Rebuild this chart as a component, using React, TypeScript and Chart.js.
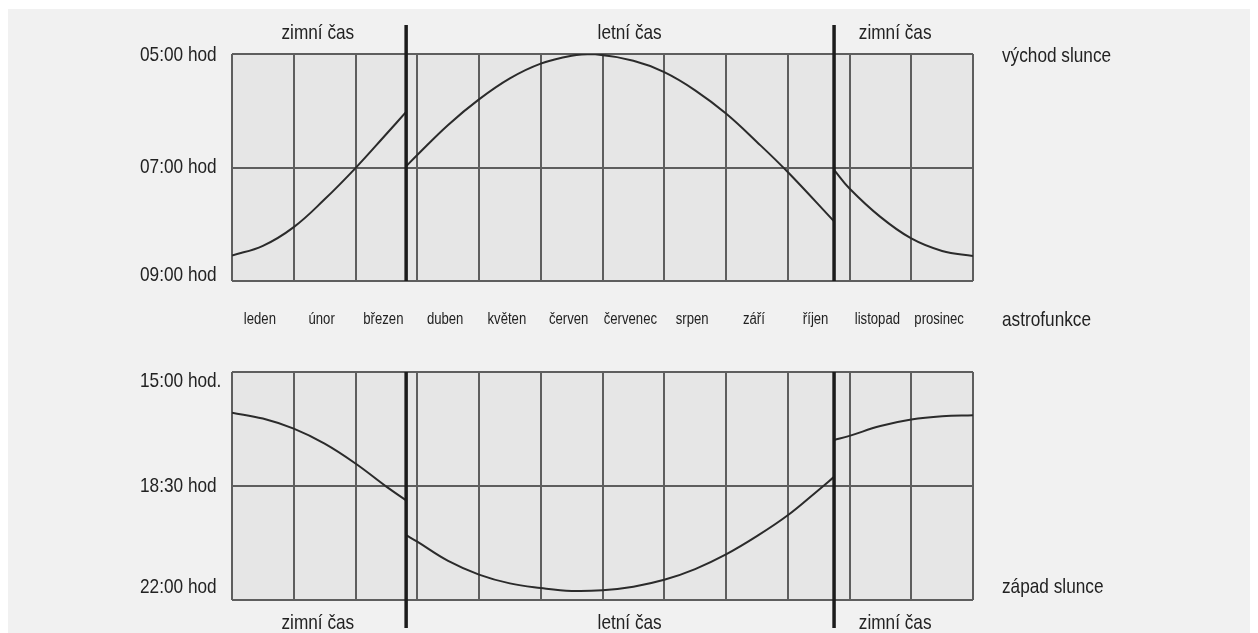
import React, { useEffect, useRef } from 'react';
import { Chart, registerables } from 'chart.js';

Chart.register(...registerables);

// ---------- data ----------
const MONTHS = ['leden', 'únor', 'březen', 'duben', 'květen', 'červen', 'červenec', 'srpen', 'září', 'říjen', 'listopad', 'prosinec'];
const DST_CHANGES = [2.82, 9.75]; // month position of the time change
const SEASONS = ['zimní čas', 'letní čas', 'zimní čas'];

const SUNRISE_TICK_VALUES = [5, 7, 9];
const SUNRISE_TICK_LABELS = ['05:00 hod', '07:00 hod', '09:00 hod'];
const SUNSET_TICK_VALUES = [15, 18.5, 22];
const SUNSET_TICK_LABELS = ['15:00 hod.', '18:30 hod', '22:00 hod'];

// [month, hour]
const SUNRISE_WINTER_1 = [[0, 8.55], [0.5, 8.38], [1, 8.05], [1.5, 7.56], [2, 7.01], [2.5, 6.41], [2.82, 6.02]];
const SUNRISE_SUMMER = [[2.82, 6.98], [3, 6.78], [3.5, 6.25], [4, 5.8], [4.5, 5.43], [5, 5.17], [5.5, 5.03], [5.85, 5.0], [6.5, 5.12], [7, 5.32], [7.5, 5.64], [8, 6.05], [8.5, 6.55], [9, 7.08], [9.75, 7.95]];
const SUNRISE_WINTER_2 = [[9.75, 7.04], [10, 7.37], [10.5, 7.87], [11, 8.25], [11.5, 8.47], [12, 8.56]];

const SUNSET_WINTER_1 = [[0, 16.25], [0.5, 16.43], [1, 16.74], [1.5, 17.2], [2, 17.81], [2.5, 18.52], [2.82, 18.94]];
const SUNSET_SUMMER = [[2.82, 20.01], [3, 20.21], [3.5, 20.8], [4, 21.22], [4.5, 21.49], [5, 21.63], [5.5, 21.72], [6, 21.7], [6.5, 21.59], [7, 21.38], [7.5, 21.05], [8, 20.6], [8.5, 20.04], [9, 19.4], [9.5, 18.62], [9.75, 18.22]];
const SUNSET_WINTER_2 = [[9.75, 17.09], [10, 16.96], [10.5, 16.66], [11, 16.46], [11.5, 16.36], [12, 16.33]];

// ---------- style ----------
const W = 1258;
const H = 633;
const PAGE_BG = '#f1f1f1';
const PLOT_BG = '#e6e6e6';
const GRID = '#5e5e5e';
const CURVE = '#2b2b2b';
const DST = '#1c1c1c';
const TEXT = '#222222';
const FONT_FAMILY = '"Liberation Sans", Arial, sans-serif';
const NARROW = 0.82;

const PLOT_LEFT = 232;
const PLOT_RIGHT = 973;
const LABEL_LEFT = 140;
const RIGHT_LABEL_LEFT = 1002;
const SEASON_POS = [1.39, 6.44, 10.74];

function narrowText(ctx: CanvasRenderingContext2D, text: string, x: number, y: number, size: number, align: CanvasTextAlign) {
  ctx.save();
  ctx.font = `${size}px ${FONT_FAMILY}`;
  ctx.textAlign = align;
  ctx.textBaseline = 'middle';
  ctx.translate(x, y);
  ctx.scale(NARROW, 1);
  ctx.fillText(text, 0, 0);
  ctx.restore();
}

type PanelCfg = {
  top: number;
  bottom: number;
  yMin: number;
  yMax: number;
  tickValues: number[];
  tickLabels: string[];
  tickOffsets: number[];
  segments: number[][][];
  dstAbove: number;
  dstBelow: number;
  seasonY: number;
  seasonAbove: boolean;
  rightLabel: string;
  rightLabelY: number;
  drawMonths: boolean;
};

function buildPanel(canvas: HTMLCanvasElement, cfg: PanelCfg) {
  const decor = {
    id: 'panelDecor',
    beforeDraw(chart: any) {
      const { ctx, chartArea } = chart;
      ctx.save();
      ctx.fillStyle = PLOT_BG;
      ctx.fillRect(chartArea.left, chartArea.top, chartArea.right - chartArea.left, chartArea.bottom - chartArea.top);
      ctx.restore();
    },
    afterDatasetsDraw(chart: any) {
      const { ctx, chartArea, scales } = chart;
      const xs = scales.x;
      const ys = scales.y;
      ctx.save();
      ctx.strokeStyle = DST;
      ctx.lineWidth = 3.5;
      DST_CHANGES.forEach((d) => {
        const px = xs.getPixelForValue(d);
        ctx.beginPath();
        ctx.moveTo(px, chartArea.top - cfg.dstAbove);
        ctx.lineTo(px, chartArea.bottom + cfg.dstBelow);
        ctx.stroke();
      });
      ctx.fillStyle = TEXT;
      cfg.tickLabels.forEach((t, i) => {
        narrowText(ctx, t, LABEL_LEFT, ys.getPixelForValue(cfg.tickValues[i]) + cfg.tickOffsets[i], 21, 'left');
      });
      narrowText(ctx, cfg.rightLabel, RIGHT_LABEL_LEFT, cfg.rightLabelY, 21, 'left');
      const sy = cfg.seasonAbove ? chartArea.top - cfg.seasonY : chartArea.bottom + cfg.seasonY;
      SEASONS.forEach((s, i) => {
        narrowText(ctx, s, xs.getPixelForValue(SEASON_POS[i]), sy, 21, 'center');
      });
      if (cfg.drawMonths) {
        const my = chartArea.bottom + 39;
        MONTHS.forEach((m, i) => {
          narrowText(ctx, m, xs.getPixelForValue(i + 0.5) - 3, my, 16, 'center');
        });
        narrowText(ctx, 'astrofunkce', RIGHT_LABEL_LEFT, my, 21, 'left');
      }
      ctx.restore();
    },
  };

  return new Chart(canvas, {
    type: 'line',
    data: {
      datasets: cfg.segments.map((seg) => ({
        data: seg.map(([x, y]) => ({ x, y })),
        borderColor: CURVE,
        borderWidth: 2,
        pointRadius: 0,
        fill: false,
        tension: 0.4,
      })),
    },
    options: {
      responsive: false,
      animation: false,
      devicePixelRatio: 1,
      events: [],
      layout: { padding: { left: PLOT_LEFT, right: W - PLOT_RIGHT, top: cfg.top, bottom: H - cfg.bottom } },
      plugins: { legend: { display: false }, tooltip: { enabled: false } },
      scales: {
        x: {
          type: 'linear',
          min: 0,
          max: 12,
          ticks: { display: false, stepSize: 1 },
          grid: { color: GRID, lineWidth: 2, drawTicks: false },
          border: { display: false },
        },
        y: {
          type: 'linear',
          min: cfg.yMin,
          max: cfg.yMax,
          reverse: true,
          afterBuildTicks: (s: any) => {
            s.ticks = cfg.tickValues.map((v) => ({ value: v }));
          },
          ticks: { display: false },
          grid: { color: GRID, lineWidth: 2, drawTicks: false },
          border: { display: false },
        },
      },
    },
    plugins: [decor],
  } as any);
}

export default function App() {
  const topRef = useRef<HTMLCanvasElement>(null);
  const botRef = useRef<HTMLCanvasElement>(null);

  useEffect(() => {
    const top = buildPanel(topRef.current!, {
      top: 54,
      bottom: 281,
      yMin: 5,
      yMax: 9,
      tickValues: SUNRISE_TICK_VALUES,
      tickLabels: SUNRISE_TICK_LABELS,
      tickOffsets: [1, 0, -6],
      segments: [SUNRISE_WINTER_1, SUNRISE_SUMMER, SUNRISE_WINTER_2],
      dstAbove: 29,
      dstBelow: 0,
      seasonY: 21,
      seasonAbove: true,
      rightLabel: 'východ slunce',
      rightLabelY: 56,
      drawMonths: true,
    });
    const bottom = buildPanel(botRef.current!, {
      top: 372,
      bottom: 600,
      yMin: 15,
      yMax: 22,
      tickValues: SUNSET_TICK_VALUES,
      tickLabels: SUNSET_TICK_LABELS,
      tickOffsets: [9, 0, -13],
      segments: [SUNSET_WINTER_1, SUNSET_SUMMER, SUNSET_WINTER_2],
      dstAbove: 0,
      dstBelow: 28,
      seasonY: 23,
      seasonAbove: false,
      rightLabel: 'západ slunce',
      rightLabelY: 587,
      drawMonths: false,
    });
    return () => {
      top.destroy();
      bottom.destroy();
    };
  }, []);

  const canvasStyle: React.CSSProperties = { position: 'absolute', left: 0, top: 0, width: W, height: H };
  return (
    <div style={{ position: 'fixed', left: 0, top: 0, width: W, height: H, background: '#ffffff', overflow: 'hidden' }}>
      <div style={{ position: 'absolute', left: 8, top: 9, width: W - 16, height: H - 9, background: PAGE_BG }} />
      <canvas ref={topRef} width={W} height={H} style={canvasStyle} />
      <canvas ref={botRef} width={W} height={H} style={canvasStyle} />
    </div>
  );
}
